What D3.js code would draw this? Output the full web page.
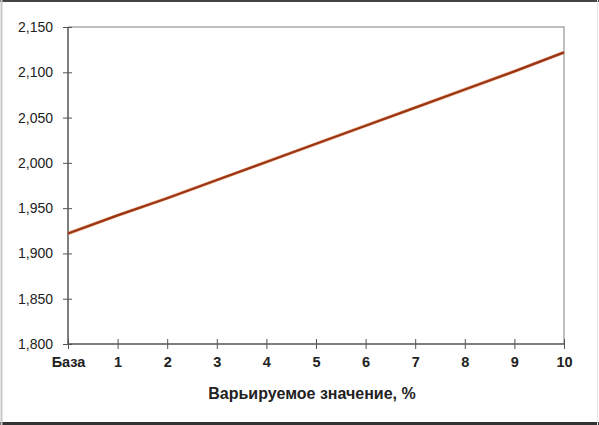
<!DOCTYPE html>
<html>
<head>
<meta charset="utf-8">
<script src="https://cdn.jsdelivr.net/npm/d3@7"></script>
<style>
html,body{margin:0;padding:0;background:#fff;}
svg{display:block;}
</style>
</head>
<body>
<svg id="chart" width="599" height="425"></svg>
<script>
const categories = ["База","1","2","3","4","5","6","7","8","9","10"];
const values = [1922, 1942, 1961, 1981, 2001, 2021, 2041, 2061, 2081, 2101, 2122];
const yTicks = [1800, 1850, 1900, 1950, 2000, 2050, 2100, 2150];
const xTitle = "Варьируемое значение, %";

const W = 599, H = 425;
const m = {left: 68, right: 35, top: 27, bottom: 81};
const svg = d3.select("#chart");
const FONT = "'Liberation Sans', Arial, sans-serif";

// outer frame
svg.append("rect").attr("x",0).attr("y",0).attr("width",W).attr("height",H).attr("fill","#fff");
svg.append("line").attr("x1",0).attr("x2",W).attr("y1",1).attr("y2",1).attr("stroke","#444").attr("stroke-width",2);
svg.append("line").attr("x1",0).attr("x2",W).attr("y1",423.5).attr("y2",423.5).attr("stroke","#333").attr("stroke-width",3);
svg.append("line").attr("x1",1.5).attr("x2",1.5).attr("y1",0).attr("y2",H).attr("stroke","#c8c8c8").attr("stroke-width",2);
svg.append("line").attr("x1",597.5).attr("x2",597.5).attr("y1",0).attr("y2",H).attr("stroke","#e4e4e4").attr("stroke-width",1);

const x = d3.scalePoint().domain(categories).range([m.left, W - m.right]).padding(0);
const y = d3.scaleLinear().domain([1800, 2150]).range([H - m.bottom, m.top]);

const fmt = d3.format(",");

// plot area top/right border
svg.append("path")
  .attr("d", `M${m.left},${m.top}H${W-m.right}V${H-m.bottom}`)
  .attr("fill","none").attr("stroke","#aaa").attr("stroke-width",1.5);

// Y axis
const yAxis = svg.append("g").attr("transform",`translate(${m.left},0)`)
  .call(d3.axisLeft(y).tickValues(yTicks).tickFormat(fmt).tickSize(5).tickPadding(10));
yAxis.select(".domain").attr("stroke","#555").attr("stroke-width",1.5).attr("d",`M0,${m.top}V${H-m.bottom}`);
yAxis.selectAll(".tick line").attr("stroke","#555").attr("x1",4).attr("x2",-5);
yAxis.selectAll(".tick text").attr("font-family",FONT)
  .attr("font-size",14).attr("fill","#222");

// X axis
const xAxis = svg.append("g").attr("transform",`translate(0,${H-m.bottom})`)
  .call(d3.axisBottom(x).tickSize(5).tickPadding(8));
xAxis.select(".domain").attr("stroke","#555").attr("stroke-width",1.5).attr("d",`M${m.left},0H${W-m.right}`);
xAxis.selectAll(".tick line").attr("stroke","#555").attr("y1",-5).attr("y2",5);
xAxis.selectAll(".tick text").attr("font-family",FONT)
  .attr("font-size",14.5).attr("font-weight","bold").attr("fill","#222");

// X title
svg.append("text").attr("x",312).attr("y",399)
  .attr("text-anchor","middle").attr("font-family",FONT)
  .attr("font-size",16).attr("font-weight","bold").attr("fill","#222").text(xTitle);

// line
const line = d3.line().x((d,i)=>x(categories[i])).y(d=>y(d));
svg.append("path").datum(values).attr("d",line)
  .attr("fill","none").attr("stroke","#e08a50").attr("stroke-width",3.5).attr("opacity",0.6);
svg.append("path").datum(values).attr("d",line)
  .attr("fill","none").attr("stroke","#9a3414").attr("stroke-width",2.2);
</script>
</body>
</html>
